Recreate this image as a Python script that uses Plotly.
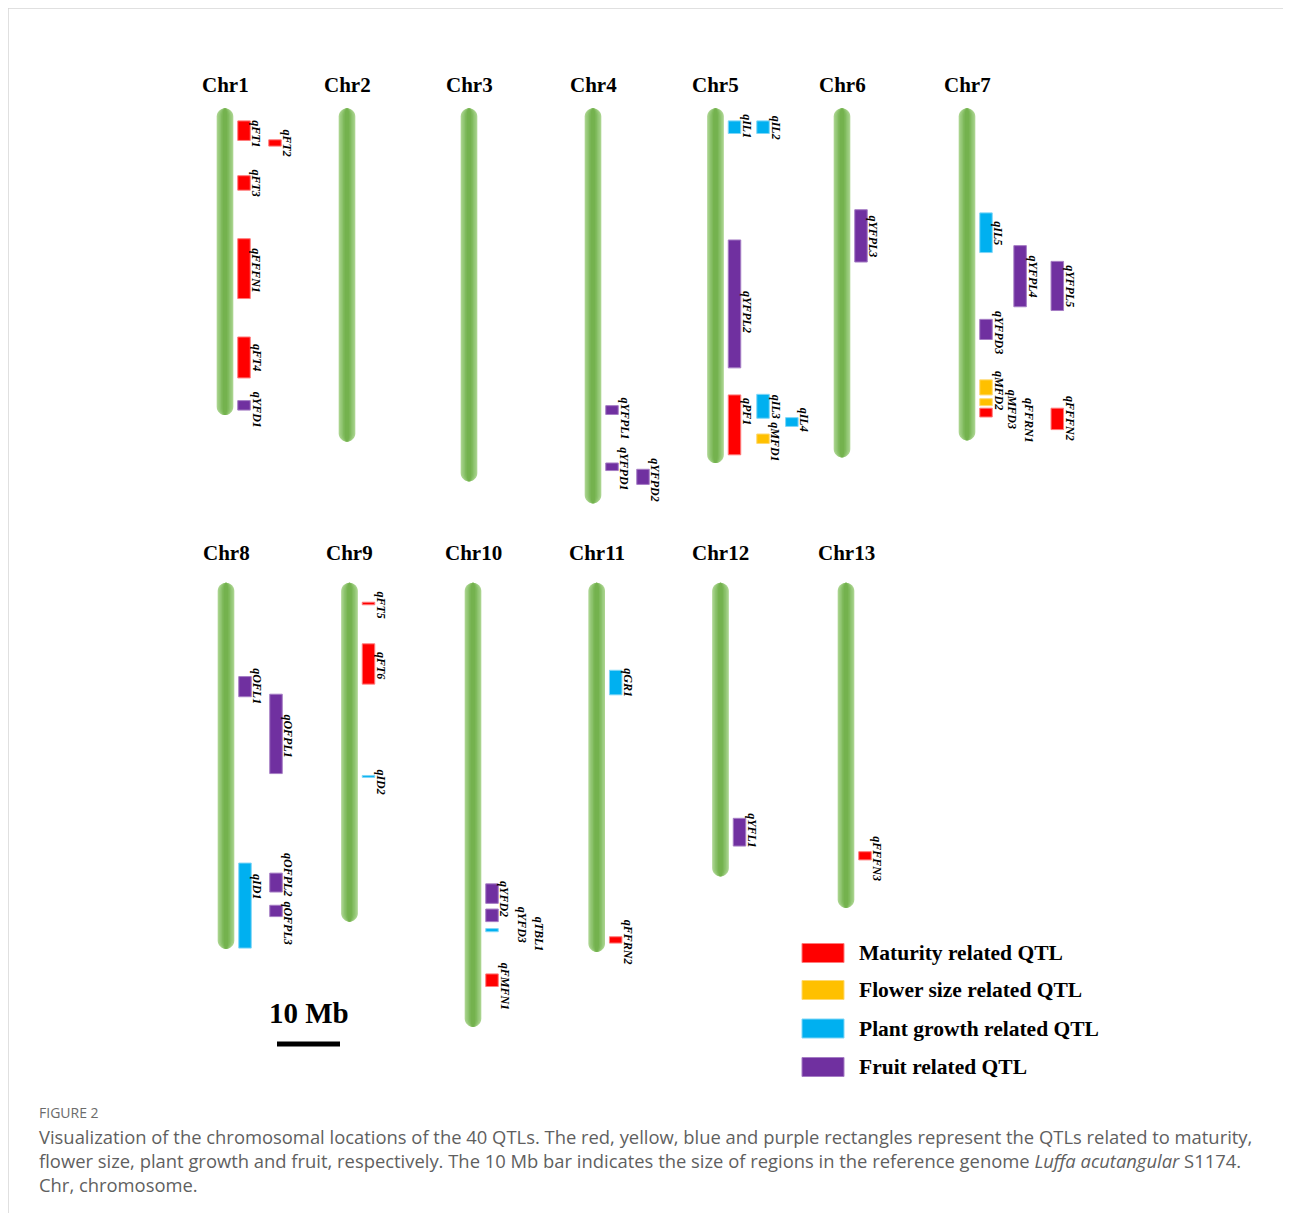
import plotly.graph_objects as go

# ---------------- DATA ----------------
chr_names = ["Chr1", "Chr2", "Chr3", "Chr4", "Chr5", "Chr6", "Chr7",
             "Chr8", "Chr9", "Chr10", "Chr11", "Chr12", "Chr13"]
chr_len_mb = [48.7, 52.9, 59.2, 62.7, 56.3, 55.4, 52.7,
              58.1, 53.8, 70.5, 58.6, 46.6, 51.6]

qtl_chr = ["Chr1", "Chr1", "Chr1", "Chr1", "Chr1", "Chr1",
           "Chr4", "Chr4", "Chr4",
           "Chr5", "Chr5", "Chr5", "Chr5", "Chr5", "Chr5", "Chr5",
           "Chr6",
           "Chr7", "Chr7", "Chr7", "Chr7", "Chr7", "Chr7", "Chr7", "Chr7",
           "Chr8", "Chr8", "Chr8", "Chr8", "Chr8",
           "Chr9", "Chr9", "Chr9",
           "Chr10", "Chr10", "Chr10", "Chr10",
           "Chr11", "Chr11",
           "Chr12",
           "Chr13"]
qtl_name = ["qFT1", "qFT2", "qFT3", "qFFFN1", "qFT4", "qYFD1",
            "qYFPL1", "qYFPD1", "qYFPD2",
            "qIL1", "qIL2", "qYFPL2", "qPF1", "qIL3", "qIL4", "qMFD1",
            "qYFPL3",
            "qIL5", "qYFPL4", "qYFPL5", "qYFPD3", "qMFD2", "qMFD3", "qFFRN1", "qFFFN2",
            "qOFL1", "qOFPL1", "qID1", "qOFPL2", "qOFPL3",
            "qFT5", "qFT6", "qID2",
            "qYFD2", "qYFD3", "qTBL1", "qFMFN1",
            "qGR1", "qFFRN2",
            "qYFL1",
            "qFFFN3"]
qtl_start = [2.0, 5.0, 10.7, 20.7, 36.3, 46.4,
             47.2, 56.3, 57.3,
             2.0, 2.0, 20.9, 45.5, 45.4, 49.1, 51.7,
             16.1,
             16.6, 21.8, 24.3, 33.5, 43.1, 46.1, 47.6, 47.6,
             14.9, 17.7, 44.5, 46.1, 51.2,
             3.1, 9.7, 30.6,
             47.8, 51.8, 54.9, 62.1,
             13.9, 56.2,
             37.4,
             42.7]
qtl_end = [5.1, 6.0, 13.0, 30.2, 42.8, 47.9,
           48.6, 57.5, 59.7,
           4.0, 4.0, 41.2, 55.0, 49.2, 50.5, 53.2,
           24.4,
           22.9, 31.5, 32.1, 36.7, 45.5, 47.2, 49.0, 51.0,
           18.1, 30.3, 58.0, 49.1, 53.0,
           3.5, 16.1, 30.9,
           50.9, 53.8, 55.4, 64.1,
           17.8, 57.2,
           41.8,
           44.0]
qtl_type = ["M", "M", "M", "M", "M", "F",
            "F", "F", "F",
            "P", "P", "F", "M", "P", "P", "S",
            "F",
            "P", "F", "F", "F", "S", "S", "M", "M",
            "F", "F", "P", "F", "F",
            "M", "M", "P",
            "F", "F", "P", "M",
            "P", "M",
            "F",
            "M"]
qtl_lane = [1, 2, 1, 1, 1, 1,
            1, 1, 2,
            1, 1.92, 1, 1, 1.92, 2.85, 1.92,
            1,
            1, 2.1, 3.3, 1, 1, 1, 1, 3.3,
            1, 2, 1, 2, 2,
            1, 1, 1,
            1, 1, 1, 1,
            1, 1,
            1,
            1]

type_codes = ["M", "S", "P", "F"]
type_labels = ["Maturity related QTL", "Flower size related QTL",
               "Plant growth related QTL", "Fruit related QTL"]
scale_bar_mb = 10

# ---------------- STYLE / LAYOUT ----------------
PAGE_OFF = 8                      # browser body margin
W, H = 1291 - PAGE_OFF, 1213 - PAGE_OFF
PX_MB = 6.3          # pixels per Mb
SLOT = 123.6         # nominal pixels between chromosomes


def X(px):   # reference page px -> figure px
    return px - PAGE_OFF


def Y(py):
    return py - PAGE_OFF


# horizontal placement of each chromosome (page px, layout only)
chr_center_px = [225, 347, 469, 593, 715.5, 842, 967,
                 226, 349.5, 473, 596.7, 720.5, 846]
X0_PX = X(225)
ROW_TOP_PX = [Y(108.3), Y(582.7)]
DOMAIN_PX = [(Y(40), Y(525)), (Y(528), Y(1090))]
CHR_HW_PX = 8.3
BAR_W_PX = 12.5
LANE1_PX = 19
LANE_STEP_PX = 31
LABEL_DX_PX = 12.5

type_colors = {"M": "#ff0000", "S": "#ffc000", "P": "#00b0f0", "F": "#7030a0"}
type_edges = {"M": "#ff7b7b", "S": "#ffd970", "P": "#7fd6f7", "F": "#a57cc4"}

# label adjustments (dx px, dy px)
label_shift = {
    "qFT1": (0, 3), "qFFFN1": (0, 2), "qYFD1": (0, 4),
    "qYFPL1": (0, 8), "qYFPD1": (0, 2), "qYFPD2": (0, 3),
    "qIL1": (0, -1), "qYFPL2": (0, 8), "qPF1": (0, -14), "qIL4": (0, -2), "qMFD1": (0, 3),
    "qYFPD3": (0, 3), "qMFD2": (0, 3), "qMFD3": (13, 7), "qFFRN1": (31, 8),
    "qOFL1": (0, -1), "qOFPL1": (0, 2), "qID1": (0, -19), "qOFPL2": (0, -8), "qOFPL3": (0, 12),
    "qFT5": (0, 1), "qFT6": (0, 1), "qID2": (0, 5),
    "qYFD2": (0, 5), "qYFD3": (17, 9), "qTBL1": (34, 4), "qFMFN1": (0, 6),
    "qFFRN2": (0, 2), "qYFL1": (0, -2), "qFFFN3": (0, 3),
}

SERIF = "Liberation Serif"


def dx(px):
    return px / SLOT


def chr_pos(name):
    i = chr_names.index(name)
    row = 0 if i < 7 else 1
    slot = dx(X(chr_center_px[i]) - X0_PX)
    return row, slot


def px_y_to_mb(row, py):       # py in figure px
    return (py - ROW_TOP_PX[row]) / PX_MB


def paper_x(px):               # reference px -> paper
    return X(px) / W


def paper_y(py):
    return 1 - Y(py) / H


xr = [-X0_PX / SLOT, (W - X0_PX) / SLOT]

fig = go.Figure()

# QTL bars, one trace per type per row
for row in (0, 1):
    for t in type_codes:
        xs, ys, bs, names = [], [], [], []
        for c, n, s, e, ty, ln in zip(qtl_chr, qtl_name, qtl_start, qtl_end, qtl_type, qtl_lane):
            r, slot = chr_pos(c)
            if r != row or ty != t:
                continue
            xs.append(slot + dx(LANE1_PX + (ln - 1) * LANE_STEP_PX))
            ys.append(e - s)
            bs.append(s)
            names.append(n)
        if not xs:
            continue
        fig.add_trace(go.Bar(
            x=xs, y=ys, base=bs, width=dx(BAR_W_PX),
            marker=dict(color=type_colors[t], line=dict(color=type_edges[t], width=1)),
            hovertext=names, hoverinfo="text",
            showlegend=False,
            xaxis="x" if row == 0 else "x2",
            yaxis="y" if row == 0 else "y2",
        ))

# chromosome capsules (layered for a gradient look)
layers = [(1.0, "#a8d38c"), (0.82, "#99ca7c"), (0.64, "#8bc26b"),
          (0.46, "#7eb95b"), (0.28, "#74b24e")]
k = 0.5523
shapes = []
annotations = []
for name, L in zip(chr_names, chr_len_mb):
    row, slot = chr_pos(name)
    xref = "x" if row == 0 else "x2"
    yref = "y" if row == 0 else "y2"
    for f, col in layers:
        hw = dx(CHR_HW_PX * f)
        ry = CHR_HW_PX / PX_MB
        xc = slot
        xl, xrr = xc - hw, xc + hw
        y0, y1 = 0.0, L
        p = (f"M {xl},{y0+ry} C {xl},{y0+ry*(1-k)} {xc-hw*k},{y0} {xc},{y0} "
             f"C {xc+hw*k},{y0} {xrr},{y0+ry*(1-k)} {xrr},{y0+ry} "
             f"L {xrr},{y1-ry} C {xrr},{y1-ry*(1-k)} {xc+hw*k},{y1} {xc},{y1} "
             f"C {xc-hw*k},{y1} {xl},{y1-ry*(1-k)} {xl},{y1-ry} Z")
        shapes.append(dict(type="path", path=p, xref=xref, yref=yref,
                           fillcolor=col, line=dict(width=0), layer="below"))
    ly = px_y_to_mb(row, Y(85) if row == 0 else Y(553))
    annotations.append(dict(text=f"<b>{name}</b>", x=slot, y=ly, xref=xref, yref=yref,
                            showarrow=False, xanchor="center", yanchor="middle",
                            font=dict(family=SERIF, size=21, color="black")))

# QTL labels
for c, n, s, e, ln in zip(qtl_chr, qtl_name, qtl_start, qtl_end, qtl_lane):
    row, slot = chr_pos(c)
    sdx, sdy = label_shift.get(n, (0, 0))
    x = slot + dx(LANE1_PX + (ln - 1) * LANE_STEP_PX + LABEL_DX_PX + sdx)
    y = (s + e) / 2 + sdy / PX_MB
    annotations.append(dict(text=n, x=x, y=y,
                            xref="x" if row == 0 else "x2", yref="y" if row == 0 else "y2",
                            showarrow=False, textangle=90, xanchor="center", yanchor="middle",
                            font=dict(family=SERIF, size=12, color="black",
                                      weight="bold", style="italic")))

# scale bar (bottom row, 10 Mb)
sb_x0 = dx(X(277) - X0_PX)
sb_x1 = sb_x0 + dx(scale_bar_mb * PX_MB)
sb_y = px_y_to_mb(1, Y(1044))
shapes.append(dict(type="line", xref="x2", yref="y2", x0=sb_x0, x1=sb_x1, y0=sb_y, y1=sb_y,
                   line=dict(color="black", width=5)))
annotations.append(dict(text=f"<b>{scale_bar_mb} Mb</b>", x=(sb_x0 + sb_x1) / 2,
                        y=px_y_to_mb(1, Y(1013)), xref="x2", yref="y2", showarrow=False,
                        font=dict(family=SERIF, size=29, color="black")))

# legend (custom)
leg_y_px = [953, 990, 1028.5, 1067]
for t, lab, ypx in zip(type_codes, type_labels, leg_y_px):
    shapes.append(dict(type="rect", xref="paper", yref="paper",
                       x0=paper_x(802), x1=paper_x(844),
                       y0=paper_y(ypx - 9.5), y1=paper_y(ypx + 9.5),
                       fillcolor=type_colors[t], line=dict(color=type_edges[t], width=1)))
    annotations.append(dict(text=f"<b>{lab}</b>", x=paper_x(857), y=paper_y(ypx),
                            xref="paper", yref="paper", showarrow=False,
                            xanchor="left", yanchor="middle",
                            font=dict(family=SERIF, size=21.5, color="black")))

# border lines
shapes.append(dict(type="line", xref="paper", yref="paper", x0=0, x1=1, y0=1, y1=1,
                   line=dict(color="#d6d6d6", width=1.5)))
shapes.append(dict(type="line", xref="paper", yref="paper", x0=0, x1=0, y0=0, y1=1,
                   line=dict(color="#d6d6d6", width=1.5)))

# caption
CAP = "Open Sans"
annotations.append(dict(text="FIGURE 2", x=paper_x(37), y=paper_y(1112), xref="paper", yref="paper",
                        showarrow=False, xanchor="left", yanchor="middle",
                        font=dict(family=CAP, size=14, color="#6b6b6b")))
cap_lines = [
    "Visualization of the chromosomal locations of the 40 QTLs. The red, yellow, blue and purple rectangles represent the QTLs related to maturity,",
    "flower size, plant growth and fruit, respectively. The 10 Mb bar indicates the size of regions in the reference genome <i>Luffa acutangular</i> S1174.",
    "Chr, chromosome.",
]
for line, ypx in zip(cap_lines, [1136, 1160, 1184]):
    annotations.append(dict(text=line, x=paper_x(37), y=paper_y(ypx), xref="paper", yref="paper",
                            showarrow=False, xanchor="left", yanchor="middle",
                            font=dict(family=CAP, size=18.4, color="#5f5f5f")))

ax_common = dict(visible=False, showgrid=False, zeroline=False, fixedrange=True)
r0 = [px_y_to_mb(0, DOMAIN_PX[0][1]), px_y_to_mb(0, DOMAIN_PX[0][0])]
r1 = [px_y_to_mb(1, DOMAIN_PX[1][1]), px_y_to_mb(1, DOMAIN_PX[1][0])]

fig.update_layout(
    width=W, height=H,
    margin=dict(l=0, r=0, t=0, b=0),
    paper_bgcolor="white", plot_bgcolor="white",
    barmode="overlay",
    showlegend=False,
    xaxis=dict(range=xr, domain=[0, 1], anchor="y", **ax_common),
    xaxis2=dict(range=xr, domain=[0, 1], anchor="y2", **ax_common),
    yaxis=dict(range=r0, domain=[1 - DOMAIN_PX[0][1] / H, 1 - DOMAIN_PX[0][0] / H], anchor="x", **ax_common),
    yaxis2=dict(range=r1, domain=[1 - DOMAIN_PX[1][1] / H, 1 - DOMAIN_PX[1][0] / H], anchor="x2", **ax_common),
    shapes=shapes,
    annotations=annotations,
)

fig.write_html("out.html")
